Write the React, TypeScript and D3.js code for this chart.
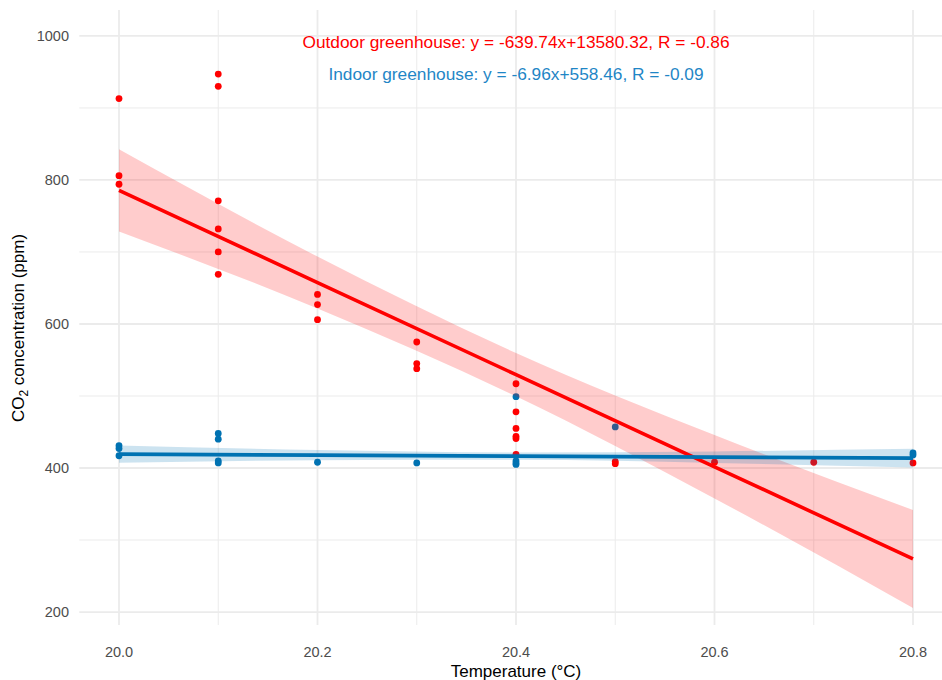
import React, { useEffect, useRef } from 'react';
import * as d3 from 'd3';

// outdoor greenhouse (red) readings
const outdoorTemp = [
    20.0, 20.0, 20.0,
    20.1, 20.1, 20.1, 20.1, 20.1, 20.1,
    20.2, 20.2, 20.2,
    20.3, 20.3, 20.3,
    20.4, 20.4, 20.4, 20.4, 20.4, 20.4,
    20.5, 20.5, 20.6, 20.7, 20.8
];
const outdoorCO2 = [
    913, 806, 794,
    947, 930, 771, 732, 700, 669,
    641, 627, 606,
    575, 545, 538,
    517, 478, 455, 444, 441, 419,
    409, 406, 408, 408, 407
];

// indoor greenhouse (blue) readings
const indoorTemp = [
    20.0, 20.0, 20.0,
    20.1, 20.1, 20.1, 20.1,
    20.2, 20.3,
    20.4, 20.4, 20.4, 20.4,
    20.5, 20.8, 20.8
];
const indoorCO2 = [
    431, 427, 417,
    448, 440, 410, 407,
    408, 407,
    499, 410, 407, 405,
    457, 421, 418
];

// fitted lines, as printed on the chart
const outdoorFit = { slope: -639.74, intercept: 13580.32, r: -0.86 };
const indoorFit = { slope: -6.96, intercept: 558.46, r: -0.09 };

// confidence band half widths
const bandTemp = [20.0, 20.2, 20.4, 20.6, 20.8];
const outdoorBand = [57, 36, 30, 44, 68];
const indoorBand = [12, 7, 5, 8, 13];

const xTicks = [20.0, 20.2, 20.4, 20.6, 20.8];
const xMinor = [20.1, 20.3, 20.5, 20.7];
const yTicks = [200, 400, 600, 800, 1000];
const yMinor = [300, 500, 700, 900];

const RED = '#ff0000';
const BLUE = '#0072B2';
const FONT = '"Liberation Sans", Arial, sans-serif';

function fitLabel(name: string, fit: { slope: number; intercept: number; r: number }) {
    return name + ': y = ' + fit.slope.toFixed(2) + 'x+' + fit.intercept.toFixed(2) + ', R = ' + fit.r.toFixed(2);
}

export default function App() {
    const ref = useRef<SVGSVGElement>(null);

    useEffect(() => {
        const width = 942;
        const height = 680;
        const svg = d3.select(ref.current);
        svg.selectAll('*').remove();

        const x = d3.scaleLinear().domain([19.96, 20.84]).range([79.3, 952.7]);
        const y = d3.scaleLinear().domain([182, 1036]).range([625, 10]);
        const top = 10, bottom = 625, left = 79.3, right = 952.7;

        const grid = svg.append('g');
        yMinor.forEach((v) => {
            grid.append('line').attr('x1', left).attr('x2', right).attr('y1', y(v)).attr('y2', y(v))
                .attr('stroke', '#ebebeb').attr('stroke-width', 1);
        });
        xMinor.forEach((v) => {
            grid.append('line').attr('y1', top).attr('y2', bottom).attr('x1', x(v)).attr('x2', x(v))
                .attr('stroke', '#ebebeb').attr('stroke-width', 1);
        });
        yTicks.forEach((v) => {
            grid.append('line').attr('x1', left).attr('x2', right).attr('y1', y(v)).attr('y2', y(v))
                .attr('stroke', '#ebebeb').attr('stroke-width', 1.8);
        });
        xTicks.forEach((v) => {
            grid.append('line').attr('y1', top).attr('y2', bottom).attr('x1', x(v)).attr('x2', x(v))
                .attr('stroke', '#ebebeb').attr('stroke-width', 1.8);
        });

        // tick labels
        svg.append('g').selectAll('text').data(yTicks).join('text')
            .attr('x', 69).attr('y', (d) => y(d)).attr('dy', '0.35em')
            .attr('text-anchor', 'end').attr('font-family', FONT).attr('font-size', 14.5)
            .attr('fill', '#4d4d4d').text((d) => d);
        svg.append('g').selectAll('text').data(xTicks).join('text')
            .attr('x', (d) => x(d)).attr('y', 657)
            .attr('text-anchor', 'middle').attr('font-family', FONT).attr('font-size', 14.5)
            .attr('fill', '#4d4d4d').text((d) => d.toFixed(1));

        // axis titles
        svg.append('text').attr('x', (left + right) / 2).attr('y', 677)
            .attr('text-anchor', 'middle').attr('font-family', FONT).attr('font-size', 17)
            .attr('fill', '#000').text('Temperature (°C)');
        const yTitle = svg.append('text')
            .attr('transform', 'translate(24,' + 328 + ') rotate(-90)')
            .attr('text-anchor', 'middle').attr('font-family', FONT).attr('font-size', 17).attr('fill', '#000');
        yTitle.append('tspan').text('CO');
        yTitle.append('tspan').attr('font-size', 12).attr('dy', 4).text('2');
        yTitle.append('tspan').attr('dy', -4).text(' concentration (ppm)');

        const plot = svg.append('g');

        const outdoorPts = outdoorTemp.map((t, i) => ({ t, v: outdoorCO2[i] }));
        const indoorPts = indoorTemp.map((t, i) => ({ t, v: indoorCO2[i] }));

        plot.append('g').selectAll('circle').data(outdoorPts).join('circle')
            .attr('cx', (d) => x(d.t)).attr('cy', (d) => y(d.v)).attr('r', 3.4).attr('fill', RED);
        plot.append('g').selectAll('circle').data(indoorPts).join('circle')
            .attr('cx', (d) => x(d.t)).attr('cy', (d) => y(d.v)).attr('r', 3.4).attr('fill', BLUE);

        const drawFit = (fit: typeof outdoorFit, band: number[], color: string) => {
            const rows = bandTemp.map((t, i) => {
                const mid = fit.slope * t + fit.intercept;
                return { t, mid, lo: mid - band[i], hi: mid + band[i] };
            });
            const area = d3.area<any>()
                .x((d) => x(d.t)).y0((d) => y(d.lo)).y1((d) => y(d.hi))
                .curve(d3.curveMonotoneX);
            plot.append('path').datum(rows).attr('d', area)
                .attr('fill', color).attr('fill-opacity', 0.2);
            return rows;
        };
        const outRows = drawFit(outdoorFit, outdoorBand, RED);
        const inRows = drawFit(indoorFit, indoorBand, BLUE);

        const line = d3.line<any>().x((d) => x(d.t)).y((d) => y(d.mid));
        plot.append('path').datum(outRows).attr('d', line)
            .attr('fill', 'none').attr('stroke', RED).attr('stroke-width', 3.6);
        plot.append('path').datum(inRows).attr('d', line)
            .attr('fill', 'none').attr('stroke', BLUE).attr('stroke-width', 3.8);

        // regression annotations
        svg.append('text').attr('x', x(20.4)).attr('y', 48)
            .attr('text-anchor', 'middle').attr('font-family', FONT).attr('font-size', 17.3)
            .attr('fill', RED).text(fitLabel('Outdoor greenhouse', outdoorFit));
        svg.append('text').attr('x', x(20.4)).attr('y', 80)
            .attr('text-anchor', 'middle').attr('font-family', FONT).attr('font-size', 17.3)
            .attr('fill', '#1f86c6').text(fitLabel('Indoor greenhouse', indoorFit));

        svg.attr('width', width).attr('height', height);
    }, []);

    return (
        <svg ref={ref} width={942} height={680}
            style={{ position: 'absolute', left: 0, top: 0, background: '#fff' }} />
    );
}
